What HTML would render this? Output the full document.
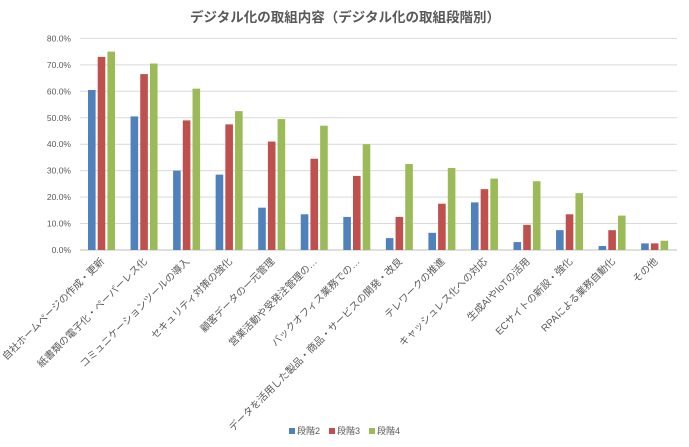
<!DOCTYPE html>
<html><head><meta charset="utf-8"><style>
body{margin:0;background:#fff;}
svg{display:block;font-family:"Liberation Sans","Noto Sans CJK JP",sans-serif;}
</style></head><body>
<svg id="c" width="689" height="447" xmlns="http://www.w3.org/2000/svg">
<rect width="689" height="447" fill="#fff"/>
<text x="345" y="22" text-anchor="middle" font-size="13.5" font-weight="bold" fill="#595959">デジタル化の取組内容（デジタル化の取組段階別）</text>
<g id="g"></g>
<g font-size="9" fill="#595959">
<rect x="289" y="428" width="6" height="6" fill="#4f81bd"/><text x="297" y="434">段階2</text>
<rect x="329" y="428" width="6" height="6" fill="#c0504d"/><text x="337" y="434">段階3</text>
<rect x="369" y="428" width="6" height="6" fill="#9bbb59"/><text x="377" y="434">段階4</text>
</g>
</svg>
<script>
var d=[["自社ホームページの作成・更新",60.5,73,75],["紙書類の電子化・ペーパーレス化",50.5,66.5,70.5],["コミュニケーションツールの導入",30,49,61],["セキュリティ対策の強化",28.5,47.5,52.5],["顧客データの一元管理",16,41,49.5],["営業活動や受発注管理の…",13.5,34.5,47],["バックオフィス業務での…",12.5,28,40],["データを活用した製品・商品・サービスの開発・改良",4.5,12.5,32.5],["テレワークの推進",6.5,17.5,31],["キャッシュレス化への対応",18,23,27],["生成AIやIoTの活用",3,9.5,26],["ECサイトの新設・強化",7.5,13.5,21.5],["RPAによる業務自動化",1.5,7.5,13],["その他",2.5,2.5,3.5]];
var s='',y0=250,k=2.645,col=["#4f81bd","#c0504d","#9bbb59"];
for(var i=0;i<=8;i++){var y=y0-i*10*k;s+='<line x1="80" x2="677" y1="'+y+'" y2="'+y+'" stroke="'+(i?'#d9d9d9':'#bfbfbf')+'" stroke-width="1"/>';s+='<text x="71" y="'+(y+3)+'" text-anchor="end" font-size="8.5" fill="#595959">'+(i*10)+'.0%</text>';}
d.forEach(function(r,i){var c=101+i*42.55;for(var j=0;j<3;j++){var h=r[j+1]*k;s+='<rect x="'+(c-13+j*9.7)+'" y="'+(y0-h)+'" width="7.6" height="'+h+'" fill="'+col[j]+'"/>';}
s+='<text transform="translate('+(c+4)+',262) rotate(-45)" text-anchor="end" font-size="10" fill="#595959">'+r[0]+'</text>';});
document.getElementById('g').innerHTML=s;
</script>
</body></html>
